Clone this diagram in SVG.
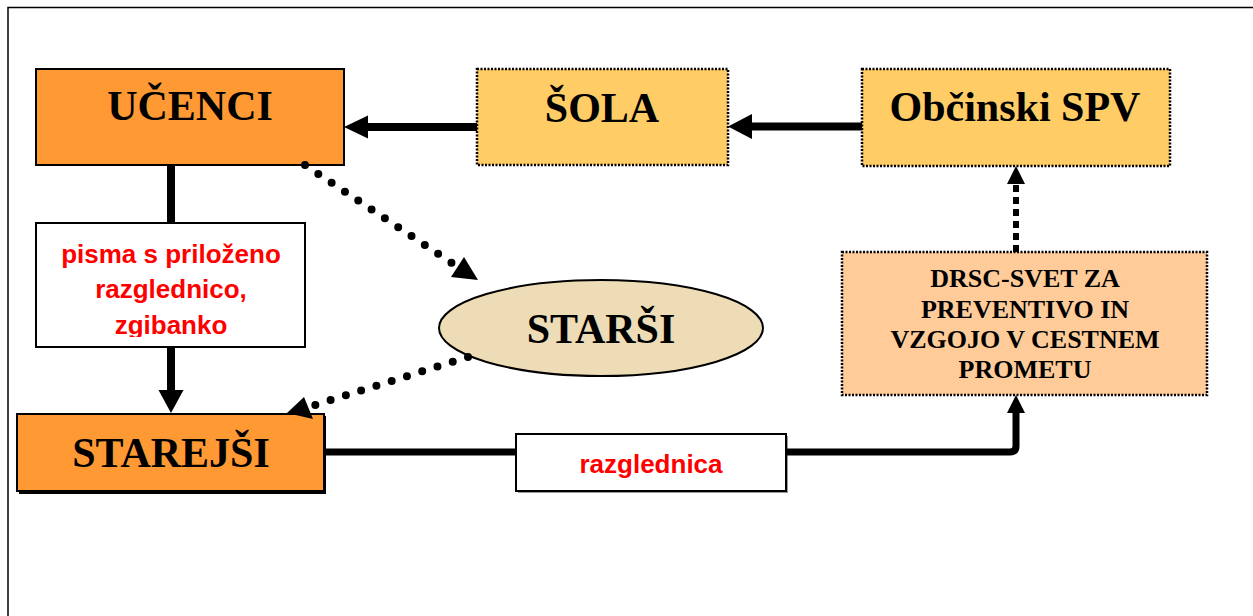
<svg xmlns="http://www.w3.org/2000/svg" width="1253" height="616" viewBox="0 0 1253 616">
<style>
.box{stroke:#000;stroke-width:2}
.dot{stroke:#000;stroke-width:2.5;stroke-dasharray:2 1.5}
.t{font-family:"Liberation Serif","Times New Roman",serif;font-weight:bold;fill:#000;text-anchor:middle}
.big{font-size:42px}
.sm{font-size:26px}
.lbl{font-family:"Liberation Sans",Arial,sans-serif;font-weight:bold;font-size:26px;fill:#FF0000;text-anchor:middle}
.ln{stroke:#000;fill:none}
.dots{stroke:#000;fill:none;stroke-width:8;stroke-linecap:round;stroke-dasharray:0 16}
</style>
<defs>
<clipPath id="pclip"><rect x="37" y="224" width="267" height="113"/></clipPath>
</defs>
<rect width="1253" height="616" fill="#fff"/>
<path d="M8,616 V7.5 H1253" fill="none" stroke="#000" stroke-width="1.5"/>

<g id="ucenci">
<rect class="box" x="36" y="69" width="308" height="96" fill="#FF9933"/>
<text class="t big" x="190" y="120">UČENCI</text>
</g>
<g id="sola">
<rect class="dot" x="477" y="69" width="251" height="96" fill="#FFCC66"/>
<text class="t big" x="602" y="122">ŠOLA</text>
</g>
<g id="obcinski">
<rect class="dot" x="862" y="69" width="308" height="97" fill="#FFCC66"/>
<text class="t big" x="1015" y="121">Občinski SPV</text>
</g>
<g id="drsc">
<rect class="dot" x="842" y="252" width="365" height="143" fill="#FFCC99"/>
<text class="t sm" x="1025" y="287">DRSC-SVET ZA</text>
<text class="t sm" x="1025" y="318">PREVENTIVO IN</text>
<text class="t sm" x="1025" y="348">VZGOJO V CESTNEM</text>
<text class="t sm" x="1025" y="378">PROMETU</text>
</g>
<g id="pisma">
<rect class="box" x="36" y="223" width="269" height="124" fill="#fff"/>
<g clip-path="url(#pclip)">
<text class="lbl" x="171" y="263">pisma s priloženo</text>
<text class="lbl" x="171" y="298">razglednico,</text>
<text class="lbl" x="171" y="334">zgibanko</text>
</g>
</g>
<g id="starsi">
<ellipse cx="601" cy="328" rx="162" ry="48" fill="#EDDCB6" stroke="#000" stroke-width="2"/>
<text class="t big" x="601" y="343">STARŠI</text>
</g>
<g id="starejsi">
<rect x="19" y="416" width="307" height="78" fill="#000"/>
<rect class="box" x="17" y="414" width="307" height="77" fill="#FF9933"/>
<text class="t big" x="171" y="467">STAREJŠI</text>
</g>
<g id="razglednica">
<rect x="518" y="436" width="270" height="57" fill="#999"/>
<rect class="box" x="516" y="434" width="270" height="57" fill="#fff"/>
<text class="lbl" x="651" y="473">razglednica</text>
</g>

<g id="connectors">
<line class="ln" x1="477" y1="127" x2="366" y2="127" stroke-width="8"/>
<polygon points="344,127 368,115.5 368,138.5"/>
<line class="ln" x1="862" y1="126.5" x2="750" y2="126.5" stroke-width="8"/>
<polygon points="728,126.5 752,114 752,139"/>
<line class="ln" x1="171" y1="165" x2="171" y2="223" stroke-width="8"/>
<line class="ln" x1="171" y1="347" x2="171" y2="392" stroke-width="8"/>
<polygon points="171,413 158.5,390 183.5,390"/>
<line class="ln" x1="324" y1="452" x2="516" y2="452" stroke-width="7"/>
<path class="ln" d="M786,452 H1010 Q1016,452 1016,446 V411" stroke-width="7"/>
<polygon points="1016,395 1007,413 1025,413"/>
<line class="ln" x1="1016" y1="252" x2="1016" y2="183" stroke-width="6" stroke-dasharray="7 5"/>
<polygon points="1016,166 1007,184 1025,184"/>
<path class="dots" d="M305,165 L452,263"/>
<polygon points="478,280 451,277 464,257"/>
<path class="dots" d="M468,357 L315,405"/>
<polygon points="287,413 304,397 313,419"/>
</g>
</svg>
